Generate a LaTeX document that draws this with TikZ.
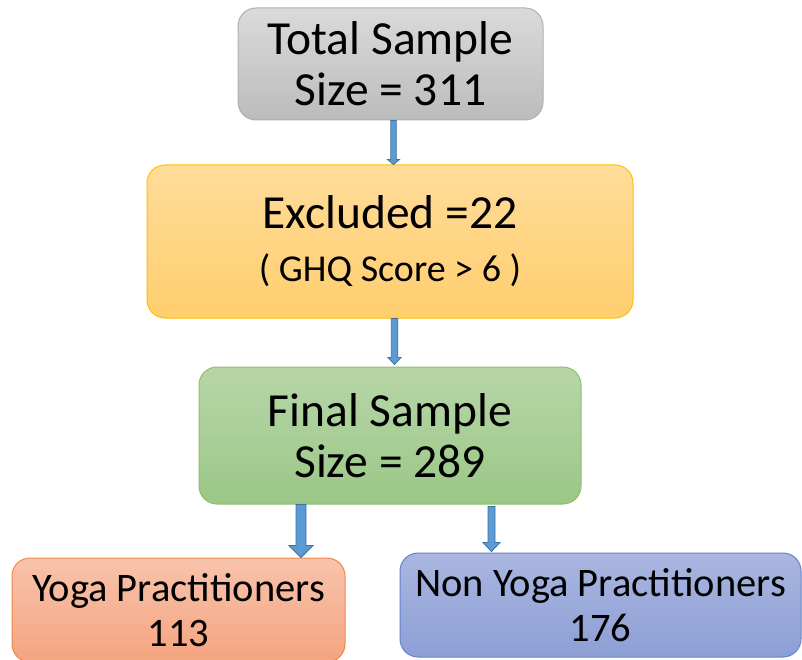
\documentclass[tikz,border=0pt]{standalone}
\usepackage{fontspec}
\setmainfont{Carlito}
\usetikzlibrary{calc}
\definecolor{grayT}{HTML}{DADADA}
\definecolor{grayB}{HTML}{BCBCBC}
\definecolor{grayD}{HTML}{B0B0B0}
\definecolor{orangeT}{HTML}{FFDC9A}
\definecolor{orangeB}{HTML}{FFCE6E}
\definecolor{orangeD}{HTML}{FFC000}
\definecolor{greenT}{HTML}{B7D6A8}
\definecolor{greenB}{HTML}{9BC787}
\definecolor{greenD}{HTML}{8CC06C}
\definecolor{salmonT}{HTML}{F8C3AB}
\definecolor{salmonB}{HTML}{F4A480}
\definecolor{salmonD}{HTML}{F0884A}
\definecolor{blueT}{HTML}{AAB6E0}
\definecolor{blueB}{HTML}{8C9FD5}
\definecolor{blueD}{HTML}{6483C9}
\definecolor{arrowF}{HTML}{5B9BD5}
\definecolor{arrowD}{HTML}{41719C}
\tikzset{
  box/.style={rounded corners=18pt, line width=1pt, align=center, inner sep=0pt, anchor=center},
  bigtext/.style={font=\fontsize{47.5}{51}\selectfont},
  smalltext/.style={font=\fontsize{40.5}{45}\selectfont},
  graybox/.style={box, draw=grayD, top color=grayT, bottom color=grayB},
  orangebox/.style={box, draw=orangeD, top color=orangeT, bottom color=orangeB},
  greenbox/.style={box, draw=greenD, top color=greenT, bottom color=greenB},
  salmonbox/.style={box, draw=salmonD, top color=salmonT, bottom color=salmonB},
  bluebox/.style={box, draw=blueD, top color=blueT, bottom color=blueB},
  blockarrow/.style={fill=arrowF, draw=arrowD, line width=0.8pt, line join=miter},
}
% #1 start point, #2 tip point (its y is used), #3 half shaft, #4 half head, #5 head length
\newcommand{\blkarrow}[5]{%
  \draw[blockarrow] let \p1=(#1), \p2=(#2) in
    (\x1-#3,\y1) -- (\x1-#3,\y2+#5) -- (\x1-#4,\y2+#5) -- (\x1,\y2)
    -- (\x1+#4,\y2+#5) -- (\x1+#3,\y2+#5) -- (\x1+#3,\y1) -- cycle;}
\begin{document}
\begin{tikzpicture}[x=1pt,y=-1pt]
\useasboundingbox (0,0) rectangle (802,660);
\clip (0,0) rectangle (802,660);
\fill[white] (0,0) rectangle (802,660);

\node[graybox, bigtext, minimum width=305pt, minimum height=112pt] (tot) at (390.5,64)
  {Total Sample\\Size = 311};
\node[orangebox, font=\fontsize{47.5}{53}\selectfont, minimum width=486pt, minimum height=153pt] (exc) at (390,241.5)
  {Excluded =22\\{\fontsize{38}{42}\selectfont ( GHQ Score > 6 )}};
\node[greenbox, bigtext, minimum width=382pt, minimum height=137pt] (fin) at (390,435.5)
  {Final Sample\\Size = 289};
\node[salmonbox, smalltext, minimum width=333pt, minimum height=104pt] (yoga) at (178.5,610)
  {Yoga Practitioners\\113};
\node[bluebox, smalltext, minimum width=401pt, minimum height=104pt] (non) at (600.5,605)
  {Non Yoga Practitioners\\176};

\blkarrow{$(tot.south)+(3,0)$}{exc.north}{2.75pt}{6pt}{5pt}
\blkarrow{$(exc.south)+(4.5,0)$}{$(fin.north)+(0,-2)$}{3.25pt}{6.5pt}{7pt}
\blkarrow{$(fin.south)+(-89,0)$}{yoga.north}{5pt}{12pt}{12pt}
\blkarrow{$(fin.south)+(101.5,2)$}{$(non.north)+(0,-1)$}{3.5pt}{8.5pt}{9pt}
\end{tikzpicture}
\end{document}
